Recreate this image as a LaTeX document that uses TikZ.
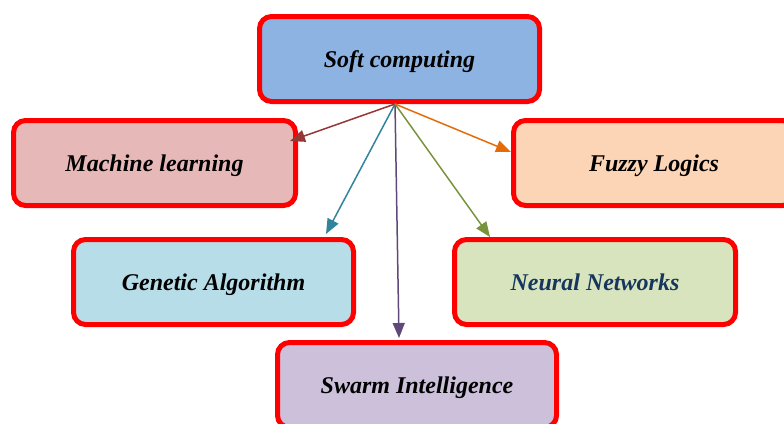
\documentclass[tikz,border=0pt]{standalone}
\usepackage{fontspec}
\setmainfont{Liberation Serif}
\usetikzlibrary{arrows.meta}
\definecolor{softfill}{HTML}{8DB3E2}
\definecolor{mlfill}{HTML}{E6B8B7}
\definecolor{fuzzyfill}{HTML}{FBD5B5}
\definecolor{genfill}{HTML}{B7DDE8}
\definecolor{neurfill}{HTML}{D7E4BD}
\definecolor{swarmfill}{HTML}{CCC0DA}
\definecolor{neurtext}{HTML}{17365D}
\definecolor{cml}{HTML}{953735}
\definecolor{cgen}{HTML}{31849B}
\definecolor{cswarm}{HTML}{5F497A}
\definecolor{cneur}{HTML}{77933C}
\definecolor{cfuzzy}{HTML}{E36C09}
\tikzset{
  box/.style={draw=red, line width=5pt, rounded corners=12pt, minimum height=85pt,
    minimum width=281pt, inner sep=0pt, text depth=0pt,
    font=\fontsize{24}{28}\selectfont\bfseries\itshape},
  conn/.style={line width=1.5pt, -{Triangle[length=15pt,width=12pt]}}
}
\begin{document}
\begin{tikzpicture}[x=1pt,y=1pt]
\useasboundingbox (0,0) rectangle (784,-423);
\clip (0,0) rectangle (784,-423);
\node[box, fill=softfill, minimum width=280pt] (soft) at (399.5,-59) {Soft computing};
\node[box, fill=mlfill, minimum width=282pt] (ml) at (154.5,-163) {Machine learning};
\node[box, fill=fuzzyfill, minimum width=281pt] (fuzzy) at (654,-163) {Fuzzy Logics};
\node[box, fill=genfill, minimum width=280pt] (gen) at (213.5,-282) {Genetic Algorithm};
\node[box, fill=neurfill, minimum width=281pt, text=neurtext] (neur) at (595,-282) {Neural Networks};
\node[box, fill=swarmfill, minimum width=279pt] (swarm) at (417,-385) {Swarm Intelligence};
\coordinate (hub) at (395,-104);
\coordinate (mlend) at (290,-141);
\coordinate (genend) at (326,-234);
\coordinate (swarmend) at (399,-338);
\coordinate (neurend) at (490,-237);
\coordinate (fuzzyend) at (511,-152);
\draw[conn, cml] (hub) -- (mlend);
\draw[conn, cgen] (hub) -- (genend);
\draw[conn, cswarm] (hub) -- (swarmend);
\draw[conn, cneur] (hub) -- (neurend);
\draw[conn, cfuzzy] (hub) -- (fuzzyend);
\end{tikzpicture}
\end{document}
